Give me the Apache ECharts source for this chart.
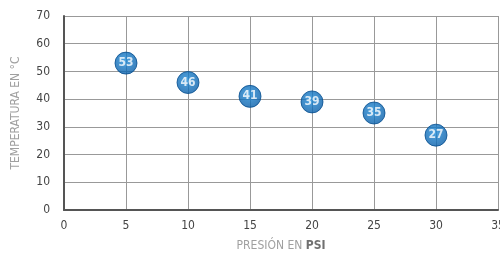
<!DOCTYPE html>
<html>
<head>
<meta charset="utf-8">
<script src="https://cdn.jsdelivr.net/npm/echarts@6/dist/echarts.min.js"></script>
<style>
    html, body { margin: 0; padding: 0; background: #fff; }
    #main { width: 500px; height: 260px; }
</style>
</head>
<body>
<div id="main"></div>
<script>
// presión (psi) y temperatura (°C)
var pressure = [5, 10, 15, 20, 25, 30];
var temperature = [53, 46, 41, 39, 35, 27];

var font = '"DejaVu Sans Condensed", "Liberation Sans Narrow", sans-serif';

var chart = echarts.init(document.getElementById('main'));
var points = pressure.map(function (p, i) {
    return [p, temperature[i]];
});

chart.setOption({
    animation: false,
    grid: {
        left: 64,
        right: 2,
        top: 16,
        bottom: 50,
        outerBoundsMode: 'none',
        containLabel: false
    },
    xAxis: {
        type: 'value',
        min: 0,
        max: 35,
        interval: 5,
        name: '{a|PRESIÓN EN }{b|PSI}',
        nameLocation: 'middle',
        nameGap: 30,
        nameTextStyle: {
            rich: {
                a: { color: '#a0a0a0', fontSize: 12, fontFamily: font },
                b: { color: '#707070', fontSize: 12, fontWeight: 'bold', fontFamily: font }
            }
        },
        axisLine: { show: true, lineStyle: { color: '#555', width: 2 } },
        axisTick: { show: false },
        axisLabel: { color: '#444', fontSize: 12, fontFamily: font, margin: 10 },
        splitLine: { show: true, lineStyle: { color: '#999', width: 1 } }
    },
    yAxis: {
        type: 'value',
        min: 0,
        max: 70,
        interval: 10,
        name: 'TEMPERATURA EN °C',
        nameLocation: 'middle',
        nameGap: 42,
        nameTextStyle: { color: '#a0a0a0', fontSize: 12, fontFamily: font },
        axisLine: { show: true, lineStyle: { color: '#555', width: 2 } },
        axisTick: { show: false },
        axisLabel: { color: '#444', fontSize: 12, fontFamily: font, margin: 14 },
        splitLine: { show: true, lineStyle: { color: '#999', width: 1 } }
    },
    series: [{
        type: 'scatter',
        data: points,
        symbol: 'circle',
        symbolSize: 22,
        itemStyle: {
            color: new echarts.graphic.RadialGradient(0.45, 0.4, 0.6, [
                { offset: 0, color: '#1e8bd8' },
                { offset: 1, color: '#0a5ea8' }
            ]),
            borderColor: '#084f8e',
            borderWidth: 1
        },
        label: {
            show: true,
            position: 'inside',
            formatter: function (p) { return p.value[1]; },
            color: '#fff',
            fontSize: 12,
            fontWeight: 'bold',
            fontFamily: font
        }
    }]
});
</script>
</body>
</html>
